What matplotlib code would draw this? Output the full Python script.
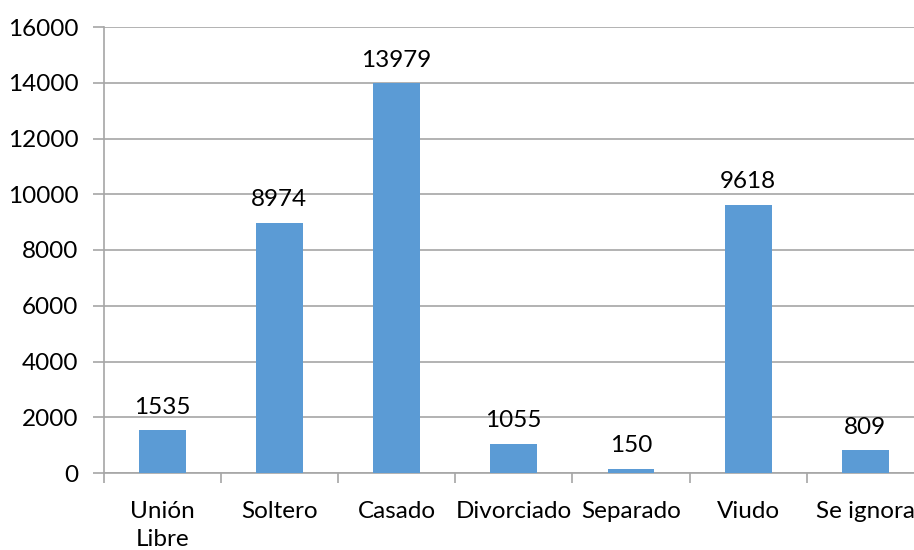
import matplotlib.pyplot as plt
import numpy as np

categories = ["Unión\nLibre", "Soltero", "Casado", "Divorciado", "Separado", "Viudo", "Se ignora"]
values = [1535, 8974, 13979, 1055, 150, 9618, 809]

plt.rcParams['font.family'] = ['Lato', 'DejaVu Sans']

fig = plt.figure(figsize=(9.14, 5.5), dpi=100)
# plot area runs a little past the right edge, like the original
ax = fig.add_axes([103.5 / 914, 77 / 550, 820.5 / 914, 446 / 550])

x = np.arange(len(categories))
bars = ax.bar(x, values, width=0.4, color="#5B9BD5", zorder=3)
ax.bar_label(bars, labels=[str(v) for v in values], padding=9, fontsize=17.5, color="black")

ax.set_xlim(-0.5, len(categories) - 0.5)
ax.set_ylim(0, 16000)
ax.set_yticks(np.arange(0, 16001, 2000))
ax.yaxis.grid(True, color="#A6A6A6", linewidth=1.2, zorder=0)

# category labels centred, tick marks on the boundaries
ax.set_xticks(x)
ax.set_xticklabels(categories, fontsize=17.5, linespacing=1.4)
ax.tick_params(axis="x", length=0, pad=20)
ax.set_xticks(np.arange(-0.5, len(categories), 1), minor=True)
ax.tick_params(axis="x", which="minor", length=7, color="#A6A6A6", width=1.2)
ax.tick_params(axis="y", length=8, color="#A6A6A6", width=1.2, labelsize=17.5, pad=10)

for s in ["top", "right"]:
    ax.spines[s].set_visible(False)
for s in ["left", "bottom"]:
    ax.spines[s].set_color("#A6A6A6")
    ax.spines[s].set_linewidth(1.2)

plt.savefig("out.png", dpi=100)
